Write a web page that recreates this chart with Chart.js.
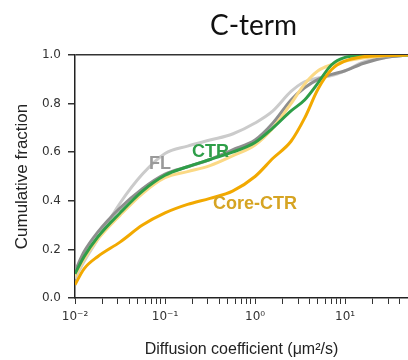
<!DOCTYPE html>
<html>
<head>
<meta charset="utf-8">
<script src="https://cdn.jsdelivr.net/npm/chart.js@4"></script>
<style>
  html, body { margin: 0; padding: 0; background: #fff; }
  #wrap { width: 408px; height: 360px; }
</style>
</head>
<body>
<div id="wrap"><canvas id="cdfChart" width="408" height="360"></canvas></div>
<script>
const diffusionValues = [0.01, 0.0126, 0.0178, 0.0316, 0.0562, 0.1, 0.178, 0.316, 0.562, 1, 1.58, 2.51, 3.55, 5.01, 7.08, 10, 15.8, 28.2, 50];

const lightGrayValues = [0.08, 0.15, 0.24, 0.39, 0.51, 0.595, 0.625, 0.65, 0.675, 0.72, 0.77, 0.85, 0.89, 0.905, 0.915, 0.935, 0.97, 0.99, 1.0];
const flValues        = [0.11, 0.19, 0.27, 0.37, 0.45, 0.51, 0.54, 0.57, 0.61, 0.65, 0.72, 0.815, 0.865, 0.90, 0.92, 0.935, 0.965, 0.99, 1.0];
const ctrValues       = [0.10, 0.17, 0.25, 0.35, 0.44, 0.505, 0.54, 0.57, 0.60, 0.64, 0.70, 0.77, 0.815, 0.885, 0.96, 0.99, 0.998, 1.0, 1.0];
const paleYellowValues = [0.09, 0.16, 0.24, 0.34, 0.43, 0.495, 0.52, 0.545, 0.585, 0.63, 0.70, 0.80, 0.88, 0.935, 0.96, 0.975, 0.988, 0.997, 1.0];
const coreCtrValues   = [0.055, 0.12, 0.17, 0.23, 0.30, 0.35, 0.385, 0.41, 0.44, 0.50, 0.575, 0.645, 0.74, 0.86, 0.94, 0.975, 0.993, 0.998, 1.0];

// in-plot labels: text, x (um^2/s), y (fraction)
const labelTexts = ['FL', 'CTR', 'Core-CTR'];
const labelX = [0.088, 0.32, 1.0];
const labelY = [0.55, 0.60, 0.387];

const yTickValues = [0, 0.2, 0.4, 0.6, 0.8, 1.0];
const xMajorTicks = [0.01, 0.1, 1, 10];
const xMajorLabels = ['10\u207B\u00B2', '10\u207B\u00B9', '10\u2070', '10\u00B9'];

const toPoints = vals => vals.map((v, i) => ({ x: diffusionValues[i], y: v }));

// minor + major tick positions on the log axis
const xTickValues = [];
[-2, -1, 0, 1].forEach(e => {
    for (let m = 1; m <= 9; m++) {
        const v = m * Math.pow(10, e);
        if (v <= 50) xTickValues.push(Number(v.toPrecision(3)));
    }
});

const labelPlugin = {
    id: 'labelPlugin',
    afterDatasetsDraw(chart) {
        const { ctx, scales, chartArea } = chart;
        const labelColors = ['#9a9a9a', '#2e9e48', '#d6a423'];
        ctx.save();
        ctx.textAlign = 'center';
        ctx.textBaseline = 'middle';
        ctx.font = 'bold 18px "Liberation Sans", Arial, sans-serif';
        labelTexts.forEach((t, i) => {
            ctx.fillStyle = labelColors[i];
            ctx.fillText(t, scales.x.getPixelForValue(labelX[i]), scales.y.getPixelForValue(labelY[i]));
        });
        // title
        ctx.fillStyle = '#111';
        ctx.font = '28px Lato, "Open Sans", sans-serif';
        ctx.fillText('C-term', (chartArea.left + chartArea.right) / 2 + 12, 26);
        ctx.restore();
    }
};

const lineStyle = (label, data, color, order) => ({
    label: label,
    data: toPoints(data),
    borderColor: color,
    backgroundColor: color,
    borderWidth: 3,
    pointRadius: 0,
    fill: false,
    cubicInterpolationMode: 'monotone',
    order: order
});

new Chart(document.getElementById('cdfChart'), {
    type: 'line',
    data: {
        datasets: [
            lineStyle('light gray', lightGrayValues, '#cbcbcb', 5),
            lineStyle('FL', flValues, '#8e8e8e', 4),
            lineStyle('pale yellow', paleYellowValues, '#fbd985', 3),
            lineStyle('CTR', ctrValues, '#2e9e48', 2),
            lineStyle('Core-CTR', coreCtrValues, '#f2a900', 1)
        ]
    },
    options: {
        responsive: false,
        animation: false,
        layout: { padding: { top: 55, right: 0, left: 0, bottom: 0 } },
        plugins: {
            legend: { display: false },
            tooltip: { enabled: false }
        },
        scales: {
            x: {
                type: 'logarithmic',
                min: 0.01,
                max: 50,
                afterBuildTicks: scale => { scale.ticks = xTickValues.map(v => ({ value: v })); },
                afterFit: scale => {
                    scale.height = 62;
                    scale.paddingRight = 0;
                    scale.paddingLeft = 0;
                },
                ticks: {
                    autoSkip: false,
                    maxRotation: 0,
                    padding: 6,
                    color: '#333',
                    font: { family: 'DejaVu Sans', size: 12 },
                    callback: function(value) {
                        const idx = xMajorTicks.findIndex(m => Math.abs(m - value) < 1e-9);
                        return idx >= 0 ? xMajorLabels[idx] : '';
                    }
                },
                grid: {
                    drawOnChartArea: false,
                    drawTicks: true,
                    tickLength: 6,
                    tickColor: '#333',
                    tickWidth: 1
                },
                border: { color: '#222', width: 1.5 },
                title: {
                    display: true,
                    text: 'Diffusion coefficient (\u03BCm\u00B2/s)',
                    color: '#222',
                    font: { family: '"Liberation Sans", Arial, sans-serif', size: 16 },
                    padding: { top: 0, bottom: 1 }
                }
            },
            y: {
                min: 0,
                max: 1,
                afterBuildTicks: scale => { scale.ticks = yTickValues.map(v => ({ value: v })); },
                afterFit: scale => { scale.width = 75; },
                ticks: {
                    padding: 7,
                    color: '#333',
                    font: { family: 'DejaVu Sans', size: 12 },
                    callback: value => value.toFixed(1)
                },
                grid: {
                    drawTicks: true,
                    tickLength: 7,
                    tickColor: '#333',
                    color: ctx => (ctx.tick && ctx.tick.value === 1 ? '#333' : 'rgba(0,0,0,0)'),
                    lineWidth: 1.5
                },
                border: { color: '#222', width: 1.5 },
                title: {
                    display: true,
                    text: 'Cumulative fraction',
                    color: '#222',
                    font: { family: '"Liberation Sans", Arial, sans-serif', size: 17 },
                    padding: { top: 12, bottom: 0 }
                }
            }
        }
    },
    plugins: [labelPlugin]
});
</script>
</body>
</html>
